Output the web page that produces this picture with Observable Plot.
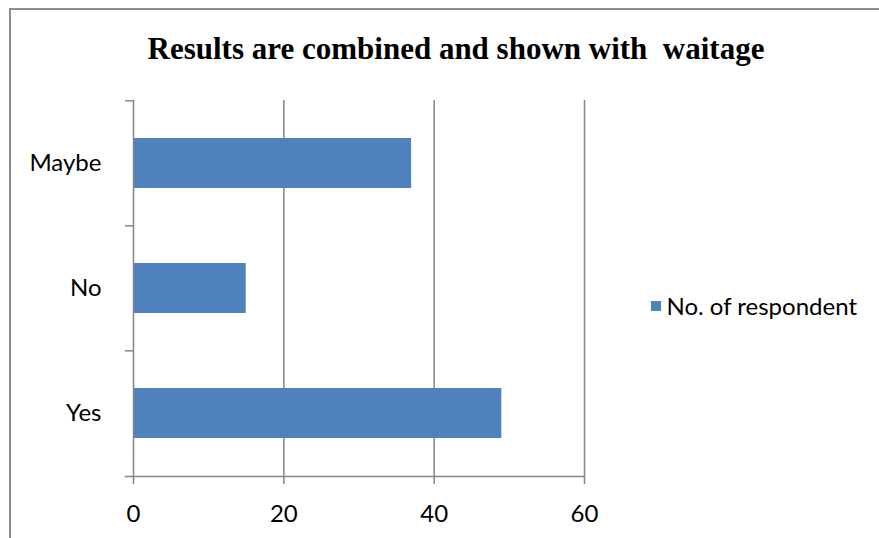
<!DOCTYPE html>
<html>
<head>
<meta charset="utf-8">
<script src="https://cdn.jsdelivr.net/npm/d3@7"></script>
<script src="https://cdn.jsdelivr.net/npm/@observablehq/plot@0.6"></script>
<style>
  html, body { margin: 0; padding: 0; background: #fff; }
  #chart { position: relative; width: 879px; height: 538px; overflow: hidden; }
  #border { position: absolute; left: 9px; top: 8px; width: 900px; height: 560px;
            border-top: 2px solid #8c8c8c; border-left: 2px solid #8c8c8c; }
  #title { position: absolute; left: 0; width: 912px; top: 31px; text-align: center;
           font-family: "Liberation Serif", "Times New Roman", serif; font-weight: bold;
           font-size: 31px; line-height: 36px; white-space: pre; color: #000; }
  #legend { position: absolute; right: 22px; top: 291px; font-family: Lato, sans-serif;
            font-size: 24px; line-height: 30px; color: #000; display: flex; align-items: center; white-space: nowrap; }
  #legend .swatch { width: 10px; height: 10px; background: #4f81bd; margin-right: 5px; }
  #plot { position: absolute; left: 0; top: 0; }
</style>
</head>
<body>
<div id="chart">
  <div id="border"></div>
  <div id="title"></div>
  <div id="plot"></div>
  <div id="legend"><div class="swatch"></div><span id="legend-label"></span></div>
</div>
<script>
// Survey answers and the number of respondents for each
const answers = ["Maybe", "No", "Yes"];
const respondents = [37, 15, 49];
const xTicks = [0, 20, 40, 60];
const seriesName = "No. of respondent";
const titleText = "Results are combined and shown with  waitage";

const rows = answers.map((a, i) => ({answer: a, value: respondents[i]}));

const W = 879, H = 538;
const mTop = 100, mBottom = 62, mLeft = 133, mRight = 295;
const step = (H - mTop - mBottom) / answers.length;
const axisGrey = "#868686";

document.getElementById("title").textContent = titleText;
document.getElementById("legend-label").textContent = seriesName;

const chart = Plot.plot({
  width: W,
  height: H,
  marginTop: mTop,
  marginBottom: mBottom,
  marginLeft: mLeft,
  marginRight: mRight,
  style: {fontFamily: "Lato, sans-serif", fontSize: "24px", color: "#000", background: "transparent", overflow: "visible"},
  x: {domain: [0, 60], label: null},
  // bars take 40% of each category band, centred in it
  y: {domain: answers, paddingInner: 0.6, paddingOuter: 0.3, label: null},
  marks: [
    Plot.gridX(xTicks.filter(d => d > 0), {stroke: axisGrey, strokeOpacity: 1, strokeWidth: 1.5}),
    Plot.barX(rows, {x: "value", y: "answer", fill: "#4f81bd"}),
    Plot.frame({anchor: "left", stroke: axisGrey, strokeWidth: 1.5}),
    Plot.frame({anchor: "bottom", stroke: axisGrey, strokeWidth: 1.5, insetLeft: -8}),
    // category boundary ticks
    Plot.axisY({tickSize: 8, tickFormat: () => "", dy: -step / 2, stroke: axisGrey, strokeWidth: 1.5, strokeOpacity: 1, label: null}),
    // category labels
    Plot.axisY({tickSize: 0, tickPadding: 32, fill: "#000", label: null}),
    Plot.axisX({ticks: xTicks, tickSize: 8, tickPadding: 20, stroke: axisGrey, strokeWidth: 1.5, strokeOpacity: 1, fill: "#000", label: null})
  ]
});
document.getElementById("plot").appendChild(chart);
</script>
</body>
</html>
